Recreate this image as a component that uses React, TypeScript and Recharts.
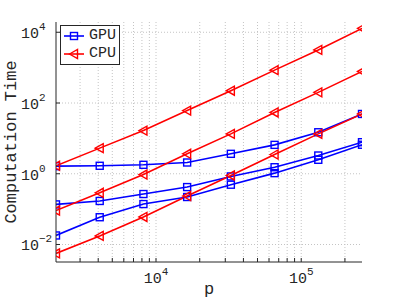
import { LineChart, Line, XAxis, YAxis, CartesianGrid, Legend } from 'recharts';

const pValues = [2048, 4096, 8192, 16384, 32768, 65536, 131072, 262144];

const gpuA = [1.64, 1.68, 1.79, 2.08, 3.66, 6.56, 14.9, 49];
const gpuB = [0.136, 0.17, 0.267, 0.42, 0.84, 1.53, 3.28, 7.8];
const gpuC = [0.018, 0.059, 0.139, 0.22, 0.49, 1.04, 2.48, 6.6];
const cpuA = [1.68, 5.3, 16.6, 61, 223, 850, 3170, 12900];
const cpuB = [0.091, 0.29, 0.95, 3.66, 13.4, 54, 200, 780];
const cpuC = [0.0056, 0.0175, 0.06, 0.234, 0.895, 3.5, 13.4, 49];

const xTicks = [3000, 4000, 5000, 6000, 7000, 8000, 9000, 10000, 20000, 30000, 40000, 50000, 60000, 70000, 80000, 90000, 100000, 200000];
const yTicks = [0.01, 1, 100, 10000];

const data = pValues.map((p, i) => ({
  p,
  gpuA: gpuA[i],
  gpuB: gpuB[i],
  gpuC: gpuC[i],
  cpuA: cpuA[i],
  cpuB: cpuB[i],
  cpuC: cpuC[i],
}));

const FONT = '"Courier New", "Liberation Mono", monospace';
const AXIS = '#262626';
const BLUE = '#0000ff';
const RED = '#ff0000';

const Square = (props: any) => {
  const { cx, cy } = props;
  if (cx == null || cy == null) return <g />;
  return <rect x={cx - 3.5} y={cy - 3.5} width={7} height={7} fill="none" stroke={BLUE} strokeWidth={1.4} />;
};

const Tri = (props: any) => {
  const { cx, cy } = props;
  if (cx == null || cy == null) return <g />;
  return (
    <path
      d={`M${cx - 4.5},${cy} L${cx + 3.5},${cy - 4.5} L${cx + 3.5},${cy + 4.5} Z`}
      fill="none"
      stroke={RED}
      strokeWidth={1.4}
    />
  );
};

const exponent = (v: number) => Math.round(Math.log10(v));

const XTick = (props: any) => {
  const { x, y, payload } = props;
  const e = Math.log10(payload.value);
  if (Math.abs(e - Math.round(e)) > 1e-6) return <g />;
  return (
    <text x={x} y={y} textAnchor="middle" fill={AXIS} fontFamily={FONT} fontSize={15}>
      <tspan>10</tspan>
      <tspan dy={-8} fontSize={11}>{exponent(payload.value)}</tspan>
    </text>
  );
};

const YTick = (props: any) => {
  const { x, y, payload } = props;
  const e = exponent(payload.value);
  return (
    <text x={x} y={y + 6} textAnchor="start" fill={AXIS} fontFamily={FONT} fontSize={15}>
      <tspan>10</tspan>
      <tspan dy={-8} fontSize={11}>{e < 0 ? '\u2212' + Math.abs(e) : e}</tspan>
    </text>
  );
};

const NoTick = () => <g />;

const LegendBox = () => (
  <div
    style={{
      border: `1px solid ${AXIS}`,
      background: '#fff',
      padding: '1px 3px 1px 2px',
      fontFamily: FONT,
      fontSize: 15,
      color: AXIS,
      lineHeight: '18px',
    }}
  >
    {[
      { name: 'GPU', color: BLUE, marker: 'sq' },
      { name: 'CPU', color: RED, marker: 'tri' },
    ].map((it) => (
      <div key={it.name} style={{ display: 'flex', alignItems: 'center', height: 18 }}>
        <svg width={22} height={12} style={{ marginRight: 4 }}>
          <line x1={1} y1={6} x2={21} y2={6} stroke={it.color} strokeWidth={1.6} />
          {it.marker === 'sq' ? (
            <rect x={7.5} y={2.5} width={7} height={7} fill="none" stroke={it.color} strokeWidth={1.4} />
          ) : (
            <path d="M6.5,6 L14.5,1.5 L14.5,10.5 Z" fill="none" stroke={it.color} strokeWidth={1.4} />
          )}
        </svg>
        <span>{it.name}</span>
      </div>
    ))}
  </div>
);

export default function App() {
  return (
    <div style={{ position: 'absolute', left: 0, top: 0, background: '#fff' }}>
      <LineChart width={399} height={300} data={data} margin={{ top: 22, right: 37, left: 0, bottom: 0 }}>
        <CartesianGrid
          horizontalValues={yTicks}
          verticalValues={xTicks}
          stroke="#c4c4c4"
          strokeDasharray="1 2"
        />
        <XAxis
          dataKey="p"
          type="number"
          scale="log"
          domain={[2048, 262144]}
          allowDataOverflow
          ticks={xTicks}
          interval={0}
          height={38}
          tickSize={-4}
          tickMargin={25}
          stroke={AXIS}
          tick={<XTick />}
          label={{ value: 'p', position: 'insideBottom', offset: 6, fill: AXIS, fontFamily: FONT, fontSize: 17 }}
        />
        <XAxis
          xAxisId="top"
          orientation="top"
          dataKey="p"
          type="number"
          scale="log"
          domain={[2048, 262144]}
          allowDataOverflow
          ticks={xTicks}
          interval={0}
          height={0}
          tickSize={-4}
          stroke={AXIS}
          tick={<NoTick />}
        />
        <YAxis
          type="number"
          scale="log"
          domain={[0.0032, 19500]}
          allowDataOverflow
          ticks={yTicks}
          interval={0}
          width={56}
          tickSize={-4}
          tickMargin={39}
          stroke={AXIS}
          tick={<YTick />}
          label={{
            value: 'Computation Time',
            angle: -90,
            position: 'insideLeft',
            offset: 10,
            style: { textAnchor: 'middle' },
            fill: AXIS,
            fontFamily: FONT,
            fontSize: 17,
          }}
        />
        <YAxis
          yAxisId="right"
          orientation="right"
          type="number"
          scale="log"
          domain={[0.0032, 19500]}
          allowDataOverflow
          ticks={yTicks}
          interval={0}
          width={0}
          tickSize={-4}
          stroke={AXIS}
          tick={<NoTick />}
        />
        <Legend
          layout="vertical"
          align="center"
          verticalAlign="middle"
          wrapperStyle={{ left: 60, top: 25, width: 'auto' }}
          content={<LegendBox />}
        />
        <Line dataKey="gpuA" stroke={BLUE} strokeWidth={1.6} dot={<Square />} isAnimationActive={false} />
        <Line dataKey="gpuB" stroke={BLUE} strokeWidth={1.6} dot={<Square />} isAnimationActive={false} />
        <Line dataKey="gpuC" stroke={BLUE} strokeWidth={1.6} dot={<Square />} isAnimationActive={false} />
        <Line dataKey="cpuA" stroke={RED} strokeWidth={1.6} dot={<Tri />} isAnimationActive={false} />
        <Line dataKey="cpuB" stroke={RED} strokeWidth={1.6} dot={<Tri />} isAnimationActive={false} />
        <Line dataKey="cpuC" stroke={RED} strokeWidth={1.6} dot={<Tri />} isAnimationActive={false} />
      </LineChart>
    </div>
  );
}
